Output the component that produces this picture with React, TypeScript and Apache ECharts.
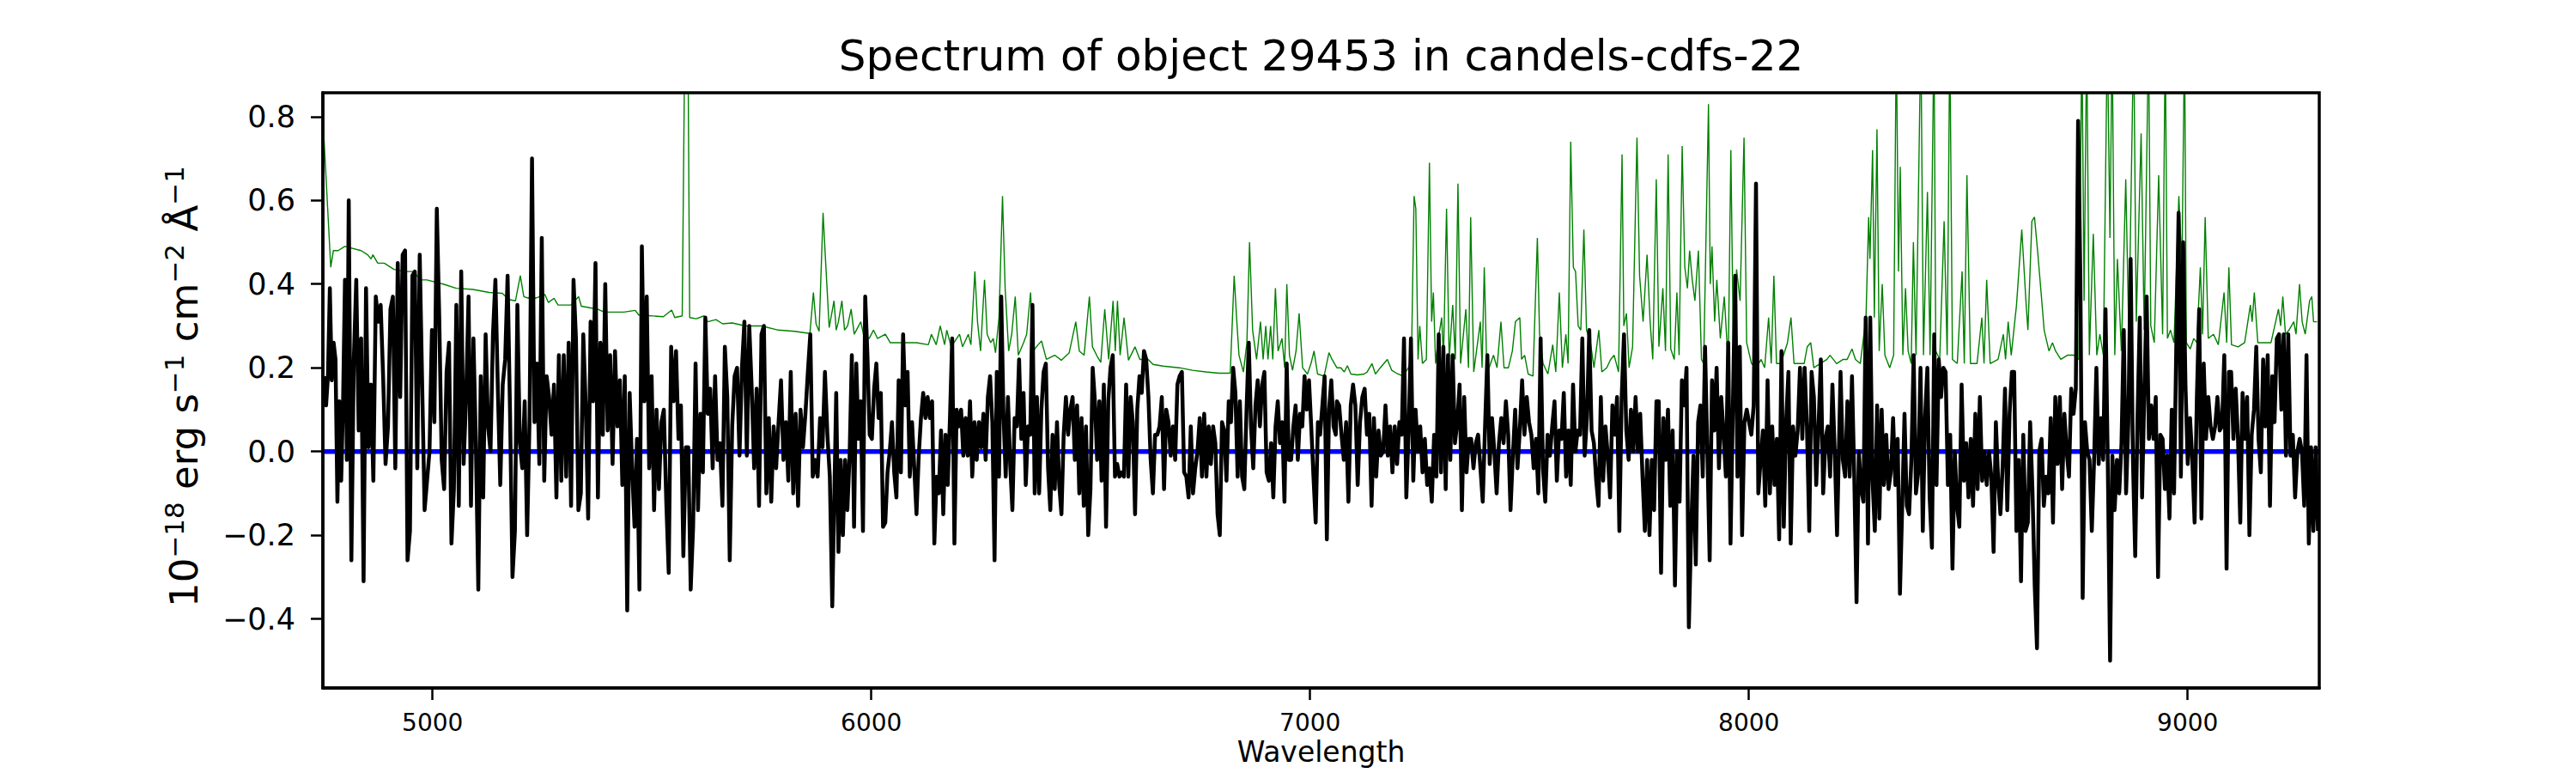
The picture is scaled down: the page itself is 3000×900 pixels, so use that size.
import React, { useEffect, useRef } from "react";
import * as echarts from "echarts";

const FONT = "DejaVu Sans";
const TITLE = "Spectrum of object 29453 in candels-cdfs-22";
const X_LABEL = "Wavelength";
const Y_LABEL_RICH = "{m|10}{s|\u221218}{m| erg s}{s|\u22121}{m| cm}{s|\u22122}{m| \u00c5}{s|\u22121}";

const X_MIN = 4750;
const X_MAX = 9300;
const Y_MIN = -0.565;
const Y_MAX = 0.857;
const X_TICKS = [5000, 6000, 7000, 8000, 9000];
const Y_TICKS = [-0.4, -0.2, 0, 0.2, 0.4, 0.6, 0.8];

const ZERO_LINE = [
  [4750, 0],
  [9300, 0],
];

const FLUX_A1 = [0.18, 0.11, 0.18, 0.39, 0.17, 0.26, 0.22, -0.12, 0.12, -0.07, 0.12, 0.41, -0.02, 0.6];
const FLUX_A2 = [
  -0.26, 0.22, 0.41, 0.05, 0.27, -0.31,
  0.39, 0.01, 0.16, -0.07, 0.37, 0.31, 0.35, 0.18, -0.03, 0.06,
  0.34, 0.37, -0.04, 0.45, 0.13, 0.47, 0.48, -0.26, -0.19, 0.42,
  0.43, -0.04, 0.47, 0.16, -0.14, -0.07, 0.0, 0.29, 0.07, 0.58,
  0.32, -0.02, -0.09, 0.19, 0.26, -0.22, -0.09, 0.35, -0.13, 0.43,
  -0.03, 0.13, 0.37, -0.13, 0.27, 0.02, -0.33, 0.18, -0.11, 0.28,
  0.06, 0.0, 0.28, 0.41, 0.15, -0.08, 0.16, 0.22, 0.42, 0.09,
  -0.3, -0.19, 0.35, 0.02, -0.04, 0.12, -0.2, 0.08, 0.7, 0.07,
  0.21, -0.03, 0.51, -0.07, 0.18, 0.13, 0.04, 0.16, -0.11, 0.23,
  -0.07, 0.23, -0.06, 0.26, -0.13, 0.41, 0.27, -0.14, -0.1, 0.28,
  0.11, -0.16, 0.31, 0.12, 0.45, -0.11, 0.26, 0.04, 0.4, 0.05,
  0.23, -0.03, 0.24, 0.06, 0.17, -0.08, 0.18, -0.38, 0.14, -0.04,
  -0.18, 0.03, -0.33, 0.49, 0.12, 0.37, -0.04, 0.18, -0.14, 0.1,
  -0.09, 0.07, 0.1, -0.12, -0.29, 0.25, 0.12, 0.24, 0.03, 0.11,
  -0.25, 0.01, 0.01, -0.33, -0.18, 0.21, -0.14, 0.09, -0.05, 0.32,
  0.09, 0.15, -0.04, 0.18, -0.02, 0.02, -0.13, 0.25, 0.13, -0.26,
  0.06, 0.18, 0.2, -0.01, 0.2, 0.31, -0.01, 0.3, 0.15, -0.04,
  0.15, -0.13, 0.28, 0.3, -0.1, 0.08, -0.12, 0.06, -0.04, 0.07,
  0.17, -0.02, 0.07, -0.07, 0.19, -0.1, 0.09, -0.13, 0.1, 0.01,
  0.09, 0.19, 0.28, -0.06, -0.02, -0.06, 0.08, 0.01, 0.19, 0.04,
  -0.06, -0.37,
];
const FLUX_B = [
  0.14, -0.24, -0.02, -0.2, -0.02, -0.14, -0.01, 0.23, -0.18, 0.21,
  0.03, 0.12, -0.19, 0.37, 0.23, 0.04, 0.03, 0.15, 0.21, 0.08,
  0.14, -0.18, -0.17, -0.05, 0.0, 0.07, -0.05, -0.11, 0.17, -0.05,
  0.28, 0.11, 0.19, -0.06, 0.07, -0.04, -0.15, -0.01, 0.08, 0.14,
  0.08, 0.13, 0.08, 0.12, -0.22, -0.06, -0.1, 0.05, -0.15, 0.04,
  -0.08, 0.08, 0.27, -0.22, 0.1, 0.06, 0.1, -0.01, 0.08, -0.01,
  0.12, -0.06, 0.07, -0.02, 0.07, 0.01, 0.09, -0.02, 0.13, 0.18,
  0.07, -0.26, 0.19, -0.06, 0.37, 0.09, -0.06, 0.13, -0.03, -0.14,
  0.08, 0.06, 0.22, 0.03, 0.14, -0.08, 0.06, 0.04, 0.35, -0.1,
  0.13, -0.1, 0.1, 0.19, 0.21, -0.04, -0.14, 0.04, -0.09, 0.07,
  -0.08, -0.15, 0.04, 0.13, 0.04, 0.1, 0.13, -0.02, 0.11, -0.1,
  0.08, -0.13, 0.06, -0.2, -0.09, 0.2, 0.12, -0.02, 0.12, -0.07,
  0.16, -0.18, 0.12, 0.2, 0.23, -0.06, -0.03, -0.06, -0.05, -0.06,
  0.16, -0.06, 0.13, 0.07, -0.15, 0.1, 0.18, 0.14, 0.24, 0.22,
  0.13, -0.02, -0.1, 0.04, 0.04, 0.06, 0.13, -0.09, 0.1, 0.07,
  -0.01, 0.06, -0.02, 0.16, 0.18, 0.19, -0.05, -0.06, -0.11, 0.06,
  -0.1, -0.04, 0.0, 0.08, -0.06, 0.09, -0.06, 0.06, -0.03, 0.06,
  0.02, -0.15, -0.2, 0.07, 0.05, -0.07, 0.12, 0.07, 0.2, 0.14,
  -0.06, 0.12, -0.06, -0.09, 0.1, 0.26, 0.06, -0.04, 0.11, 0.17,
  0.06, 0.16, 0.19, -0.05, -0.07, 0.02, -0.11, 0.06, 0.12, 0.02,
  0.07, -0.12, 0.21, -0.02, -0.02, 0.06, 0.11, -0.02, 0.09, 0.06,
  0.18, 0.1, 0.17, 0.06, -0.06, -0.17, 0.07, 0.04, 0.11, 0.18,
  -0.21, 0.1, 0.17, 0.06, 0.04,
];
const FLUX_C = [
  0.12, 0.11, 0.04, -0.02, 0.07, -0.12, 0.11, 0.16, 0.11, -0.08,
  0.07, 0.13, 0.15, 0.04, 0.09, -0.13, 0.08, -0.06, 0.05, -0.01,
  0.0, 0.11, -0.01, 0.06, -0.05, 0.06, -0.03, 0.07, 0.04, 0.27,
  -0.11, 0.05, 0.27, -0.07, 0.1, 0.0, 0.06, -0.05, 0.03, -0.08,
  -0.04, -0.12, 0.04, -0.06, 0.28, -0.05, 0.25, -0.09, 0.23, -0.02,
  0.23, 0.02, 0.07, 0.16, -0.14, 0.13, -0.05, 0.03, 0.03, -0.04,
  0.02, 0.04, -0.04, -0.12, 0.06, 0.23, -0.03, 0.08, 0.0, -0.1,
  0.02, 0.08, 0.02, 0.12, 0.04, -0.14, -0.01, 0.1, -0.04, 0.05,
  0.17, 0.04, 0.13, 0.07, 0.04, -0.04, 0.03, -0.1, 0.27, -0.04,
  -0.12, 0.04, -0.01, 0.06, 0.12, -0.07, 0.05, 0.03, 0.14, -0.06,
  0.05, -0.08, 0.16, 0.0, 0.05, 0.04, 0.27, -0.01, 0.08, 0.29,
  0.05, 0.02, -0.07, -0.13, 0.13, -0.07, 0.06, -0.01, -0.11, 0.11,
  0.04, 0.13, -0.19, 0.13, 0.28, 0.05, -0.02, 0.1, 0.0, 0.13,
  0.0, 0.09, -0.06, -0.19, -0.02, -0.2, -0.02, -0.14, 0.12, 0.12,
  -0.29, 0.08, -0.02, 0.1, -0.13, 0.05, -0.32, 0.0, -0.12, 0.17,
  0.11, 0.2, -0.42, -0.19, -0.01, -0.27, 0.07, 0.11, -0.06, 0.25,
  0.0, -0.26, 0.17, 0.05, 0.2, -0.04, 0.13, 0.04, -0.06, 0.26,
  -0.22, 0.1, 0.42, -0.06, 0.25, -0.2, 0.07, 0.1, 0.07, 0.04,
  0.11, 0.64, -0.1, -0.02, 0.05, -0.13, 0.17, -0.1, 0.06, -0.08,
  0.03, -0.21, 0.24, -0.18, 0.07, 0.19, -0.22, 0.06, -0.01, 0.05,
  0.2, 0.03, 0.2, 0.06, -0.19, 0.19, 0.13, -0.08, 0.06, 0.22,
  -0.1, 0.03, 0.06, -0.06, 0.16, 0.0, -0.2,
];
const FLUX_D = [
  0.19, -0.02, -0.06, 0.12, -0.06, 0.18, -0.06, -0.36, 0.0, -0.09,
  -0.12, 0.32, -0.22, 0.32, -0.07, -0.19, 0.11, -0.16, 0.1, -0.08,
  0.04, -0.09, -0.05, 0.08, -0.08, 0.03, -0.34, -0.13, 0.09, -0.13,
  -0.15, -0.02, 0.23, -0.1, -0.05, 0.2, -0.19, 0.08, 0.2, -0.11,
  -0.23, 0.28, -0.08, 0.22, 0.13, 0.2, 0.19, -0.08, 0.04, -0.28,
  0.0, -0.13, -0.18, 0.16, -0.07, 0.02, -0.11, 0.03, -0.13, 0.09,
  -0.09, 0.13, -0.07, 0.0, -0.08, 0.0, -0.06, -0.24, 0.07, -0.07,
  -0.15, -0.03, 0.15, -0.14, 0.09, 0.19, 0.19, -0.19, -0.02, -0.31,
  0.04, -0.19, -0.17, 0.07, -0.09, -0.32, -0.47, 0.0, 0.03, -0.13,
  -0.06, -0.1, 0.08, -0.17, 0.13, -0.03, 0.13, -0.09, 0.09, 0.0,
  -0.06, 0.15, 0.09, 0.15, 0.79, 0.41, -0.35, 0.07, 0.0, -0.02,
  -0.19, -0.02, 0.2, -0.03, 0.08, -0.02, 0.34, -0.03, -0.5, -0.01,
  -0.14, -0.02, -0.1, 0.02, 0.29, -0.1, 0.07, 0.46, -0.02, -0.25,
  0.08, 0.32, -0.11, 0.14, 0.37, 0.03, 0.11, 0.03, 0.13, -0.3,
  0.04, 0.03, -0.09, -0.01, -0.16, 0.1, -0.1, 0.26, 0.57, -0.06,
  0.5, 0.16, -0.03, 0.08, -0.02, -0.17, 0.13, 0.34, -0.16, 0.21,
  0.03, 0.13, 0.06, 0.03, 0.06, 0.13, 0.05, 0.06, 0.23, -0.28,
  0.19, 0.19, 0.03, 0.15, 0.03, -0.17, 0.14, 0.03, 0.13, -0.2,
  0.04, 0.1, 0.25, 0.03, -0.05, 0.22, 0.06, 0.23, -0.13, 0.18,
  0.07, 0.27, 0.28, 0.1, 0.28, -0.01, 0.28, -0.01, 0.04, -0.11,
  0.0, 0.03, 0.0, -0.13, 0.23, -0.22, 0.01, -0.19, 0.01, -0.19,
];

// wavelength span of each chunk [start, end]
const FLUX_CHUNKS = [
  { span: [4753, 4809], flux: FLUX_A1 },
  { span: [4815, 5911], flux: FLUX_A2 },
  { span: [5920, 7058.5], flux: FLUX_B },
  { span: [7061, 8201], flux: FLUX_C },
  { span: [8209, 9297], flux: FLUX_D },
];

// Green noise / error spectrum
const GREEN_WAVE = [
  4751, 4768, 4774, 4785, 4800, 4837, 4852, 4860, 4864, 4875, 4890, 4912, 4935, 4957, 4972, 4987,
  5024, 5054, 5092, 5129, 5159, 5174, 5189, 5200, 5208, 5219, 5226, 5234, 5256, 5264, 5277, 5286,
  5316, 5333, 5339, 5376, 5391, 5436, 5462, 5470, 5526, 5545, 5552, 5569, 5575, 5582, 5586, 5601,
  5619, 5627, 5646, 5661, 5683, 5713, 5750, 5788, 5825, 5860, 5868, 5874, 5881, 5890, 5896, 5904,
  5915, 5920, 5925, 5933, 5939, 5946, 5954, 5961, 5976, 5984, 5995, 6005, 6014, 6032, 6043, 6073,
  6103, 6130, 6137, 6148, 6157, 6167, 6172, 6182, 6201, 6208, 6221, 6227, 6236, 6242, 6249, 6258,
  6264, 6272, 6278, 6283, 6291, 6299, 6305, 6313, 6320, 6328, 6335, 6347, 6354, 6363, 6369, 6380,
  6388, 6399, 6418, 6433, 6451, 6466, 6474, 6485, 6497, 6504, 6515, 6523, 6532, 6541, 6551, 6556,
  6561, 6567, 6576, 6586, 6601, 6612, 6631, 6642, 6665, 6702, 6732, 6762, 6792, 6818, 6827, 6833,
  6838, 6848, 6856, 6862, 6869, 6878, 6887, 6893, 6899, 6904, 6910, 6915, 6921, 6927, 6936, 6942,
  6947, 6953, 6960, 6968, 6975, 6983, 6994, 7002, 7009, 7017, 7032, 7043, 7050, 7061, 7070, 7078,
  7085, 7093, 7108, 7123, 7130, 7141, 7149, 7160, 7176, 7186, 7197, 7212, 7224, 7231, 7237, 7241,
  7246, 7250, 7256, 7265, 7272, 7277, 7281, 7286, 7291, 7300, 7304, 7311, 7317, 7325, 7331, 7337,
  7343, 7355, 7361, 7366, 7373, 7388, 7392, 7397, 7403, 7418, 7426, 7435, 7442, 7452, 7461, 7468,
  7478, 7482, 7489, 7497, 7508, 7518, 7523, 7531, 7542, 7553, 7560, 7568, 7575, 7583, 7588, 7594,
  7600, 7605, 7611, 7617, 7624, 7630, 7639, 7647, 7658, 7665, 7676, 7685, 7693, 7703, 7711, 7715,
  7721, 7727, 7735, 7745, 7751, 7759, 7768, 7775, 7781, 7789, 7795, 7804, 7810, 7816, 7822, 7830,
  7836, 7841, 7848, 7854, 7860, 7865, 7871, 7877, 7885, 7892, 7897, 7908, 7912, 7916, 7922, 7927,
  7935, 7944, 7953, 7959, 7965, 7972, 7980, 7989, 7995, 8006, 8017, 8028, 8036, 8045, 8051, 8057,
  8063, 8073, 8088, 8096, 8103, 8126, 8133, 8141, 8148, 8163, 8178, 8185, 8200, 8215, 8224, 8235,
  8243, 8254, 8267, 8273, 8276, 8282, 8286, 8292, 8297, 8304, 8310, 8321, 8330, 8336, 8341, 8345,
  8351, 8357, 8363, 8370, 8375, 8381, 8392, 8398, 8407, 8413, 8422, 8426, 8435, 8445, 8452, 8458,
  8464, 8475, 8486, 8491, 8497, 8505, 8520, 8531, 8536, 8542, 8550, 8568, 8580, 8585, 8591, 8598,
  8610, 8622, 8632, 8636, 8645, 8651, 8658, 8666, 8673, 8684, 8692, 8699, 8711, 8726, 8741, 8752,
  8759, 8764, 8770, 8776, 8785, 8793, 8800, 8808, 8817, 8823, 8828, 8834, 8840, 8849, 8859, 8866,
  8877, 8883, 8894, 8901, 8911, 8916, 8924, 8934, 8943, 8949, 8954, 8961, 8969, 8980, 8987, 8993,
  8997, 9006, 9014, 9021, 9029, 9034, 9040, 9047, 9059, 9070, 9083, 9089, 9094, 9100, 9115, 9130,
  9143, 9147, 9152, 9160, 9175, 9190, 9207, 9212, 9217, 9223, 9231, 9242, 9247, 9255, 9261, 9268,
  9278, 9283, 9287, 9295,
];
const GREEN_FLUX = [
  0.78, 0.44, 0.48, 0.48, 0.49, 0.48, 0.47, 0.46, 0.47, 0.45, 0.45, 0.435, 0.43, 0.43, 0.41, 0.41,
  0.4, 0.39, 0.387, 0.38, 0.378, 0.363, 0.36, 0.42, 0.37, 0.366, 0.38, 0.366, 0.375, 0.356, 0.366, 0.35,
  0.35, 0.37, 0.347, 0.34, 0.333, 0.333, 0.337, 0.326, 0.322, 0.338, 0.32, 0.324, 1.0, 1.0, 0.32, 0.317,
  0.324, 0.31, 0.315, 0.305, 0.307, 0.3, 0.3, 0.29, 0.287, 0.282, 0.38, 0.305, 0.287, 0.57, 0.45, 0.296,
  0.36, 0.29, 0.31, 0.36, 0.29, 0.3, 0.34, 0.28, 0.31, 0.27, 0.27, 0.29, 0.27, 0.28, 0.26, 0.26,
  0.26, 0.255, 0.28, 0.255, 0.3, 0.255, 0.29, 0.25, 0.28, 0.25, 0.28, 0.255, 0.43, 0.31, 0.24, 0.41,
  0.28, 0.26, 0.27, 0.236, 0.32, 0.61, 0.39, 0.24, 0.28, 0.37, 0.23, 0.26, 0.28, 0.38, 0.24, 0.255,
  0.264, 0.22, 0.23, 0.218, 0.236, 0.31, 0.24, 0.23, 0.37, 0.25, 0.227, 0.213, 0.34, 0.22, 0.36, 0.24,
  0.36, 0.23, 0.32, 0.218, 0.25, 0.22, 0.22, 0.208, 0.204, 0.2, 0.194, 0.19, 0.187, 0.187, 0.42, 0.31,
  0.23, 0.19, 0.26, 0.5, 0.29, 0.22, 0.31, 0.22, 0.3, 0.22, 0.3, 0.22, 0.39, 0.24, 0.27, 0.2,
  0.4, 0.23, 0.194, 0.24, 0.33, 0.2, 0.185, 0.21, 0.24, 0.185, 0.18, 0.236, 0.22, 0.2, 0.2, 0.19,
  0.205, 0.185, 0.183, 0.185, 0.19, 0.21, 0.185, 0.2, 0.22, 0.194, 0.187, 0.18, 0.2, 0.22, 0.61, 0.58,
  0.22, 0.3, 0.21, 0.22, 0.69, 0.31, 0.38, 0.21, 0.26, 0.32, 0.22, 0.58, 0.22, 0.35, 0.22, 0.64,
  0.21, 0.34, 0.2, 0.56, 0.19, 0.31, 0.2, 0.44, 0.185, 0.23, 0.2, 0.31, 0.2, 0.2, 0.24, 0.31,
  0.32, 0.22, 0.23, 0.185, 0.18, 0.51, 0.28, 0.21, 0.185, 0.255, 0.19, 0.38, 0.2, 0.28, 0.21, 0.74,
  0.44, 0.43, 0.3, 0.29, 0.53, 0.29, 0.26, 0.2, 0.29, 0.19, 0.2, 0.22, 0.23, 0.19, 0.71, 0.3,
  0.33, 0.2, 0.25, 0.75, 0.42, 0.31, 0.47, 0.31, 0.22, 0.65, 0.25, 0.39, 0.24, 0.71, 0.245, 0.22,
  0.38, 0.23, 0.73, 0.44, 0.39, 0.48, 0.41, 0.36, 0.48, 0.22, 0.21, 0.83, 0.4, 0.49, 0.31, 0.41,
  0.27, 0.37, 0.21, 0.72, 0.22, 0.435, 0.36, 0.75, 0.26, 0.21, 0.2, 0.22, 0.2, 0.32, 0.21, 0.42,
  0.21, 0.21, 0.26, 0.32, 0.21, 0.21, 0.25, 0.26, 0.2, 0.21, 0.22, 0.23, 0.21, 0.22, 0.22, 0.245,
  0.22, 0.21, 0.32, 0.56, 0.46, 0.72, 0.32, 0.77, 0.24, 0.4, 0.23, 0.2, 0.23, 1.0, 0.43, 0.68,
  0.23, 0.39, 0.24, 0.21, 0.5, 0.23, 1.0, 0.23, 0.62, 0.23, 1.0, 0.24, 0.22, 0.55, 0.23, 1.0,
  0.22, 0.21, 0.43, 0.21, 0.66, 0.21, 0.21, 0.32, 0.21, 0.41, 0.21, 0.22, 0.28, 0.22, 0.31, 0.23,
  0.35, 0.53, 0.35, 0.29, 0.55, 0.56, 0.48, 0.38, 0.29, 0.24, 0.26, 0.24, 0.22, 0.23, 0.23, 0.22,
  1.0, 0.36, 1.0, 0.23, 0.52, 0.23, 0.28, 0.23, 1.0, 0.51, 1.0, 0.23, 0.46, 0.24, 0.65, 0.28,
  1.0, 0.31, 0.76, 0.29, 1.0, 0.3, 0.26, 0.66, 0.28, 1.0, 0.27, 0.29, 0.26, 0.61, 0.44, 1.0,
  0.26, 0.245, 0.27, 0.26, 0.44, 0.28, 0.56, 0.27, 0.28, 0.255, 0.38, 0.26, 0.44, 0.255, 0.25, 0.26,
  0.35, 0.31, 0.38, 0.26, 0.26, 0.26, 0.34, 0.3, 0.37, 0.28, 0.29, 0.31, 0.28, 0.4, 0.31, 0.28,
  0.36, 0.37, 0.31, 0.31,
];

// layout (pixels)
const GRID = { left: 376, top: 108, width: 2325, height: 693 };

function buildFlux(): number[][] {
  const out: number[][] = [];
  FLUX_CHUNKS.forEach((c) => {
    const n = c.flux.length;
    const step = n > 1 ? (c.span[1] - c.span[0]) / (n - 1) : 0;
    c.flux.forEach((v, i) => out.push([c.span[0] + i * step, v]));
  });
  return out;
}

function buildGreen(): number[][] {
  const n = Math.min(GREEN_WAVE.length, GREEN_FLUX.length);
  const out: number[][] = [];
  for (let i = 0; i < n; i++) out.push([GREEN_WAVE[i], GREEN_FLUX[i]]);
  return out;
}

const fmtY = (v: number) => (v < 0 ? "\u2212" : "") + Math.abs(v).toFixed(1);

export default function App() {
  const ref = useRef<HTMLDivElement>(null);
  useEffect(() => {
    if (!ref.current) return;
    const chart = echarts.init(ref.current, undefined, { renderer: "svg" });
    const cx = GRID.left + GRID.width / 2;
    chart.setOption({
      animation: false,
      backgroundColor: "#ffffff",
      grid: {
        left: GRID.left,
        top: GRID.top,
        width: GRID.width,
        height: GRID.height,
        containLabel: false,
        outerBoundsMode: "none",
        show: false,
      },
      xAxis: {
        type: "value",
        min: X_MIN,
        max: X_MAX,
        axisLine: { show: true, onZero: false, lineStyle: { color: "#000", width: 3.5 } },
        splitLine: { show: false },
        axisTick: {
          show: true,
          inside: false,
          length: 14,
          customValues: X_TICKS,
          lineStyle: { color: "#000", width: 2.5 },
        },
        axisLabel: {
          customValues: X_TICKS,
          fontSize: 28,
          fontFamily: FONT,
          color: "#000",
          margin: 26,
          formatter: (v: number) => String(v),
        },
      },
      yAxis: {
        type: "value",
        min: Y_MIN,
        max: Y_MAX,
        axisLine: { show: true, onZero: false, lineStyle: { color: "#000", width: 3.5 } },
        splitLine: { show: false },
        axisTick: {
          show: true,
          inside: false,
          length: 14,
          customValues: Y_TICKS,
          lineStyle: { color: "#000", width: 2.5 },
        },
        axisLabel: {
          customValues: Y_TICKS,
          fontSize: 35,
          fontFamily: FONT,
          color: "#000",
          margin: 32,
          formatter: fmtY,
        },
      },
      series: [
        {
          type: "line",
          data: buildGreen(),
          symbol: "none",
          showSymbol: false,
          silent: true,
          clip: true,
          z: 2,
          lineStyle: { color: "#008000", width: 1.4 },
        },
        {
          type: "line",
          data: ZERO_LINE,
          symbol: "none",
          showSymbol: false,
          silent: true,
          clip: true,
          z: 3,
          lineStyle: { color: "#0000ff", width: 5.5 },
        },
        {
          type: "line",
          data: buildFlux(),
          symbol: "none",
          showSymbol: false,
          silent: true,
          clip: true,
          z: 4,
          lineStyle: { color: "#000000", width: 4.5, join: "round" },
        },
      ],
      graphic: [
        {
          type: "rect",
          silent: true,
          z: 100,
          shape: { x: GRID.left, y: GRID.top, width: GRID.width, height: GRID.height },
          style: { fill: "none", stroke: "#000", lineWidth: 3.5 },
        },
        {
          type: "text",
          silent: true,
          x: cx,
          y: 65,
          style: {
            text: TITLE,
            fontSize: 50,
            fontFamily: FONT,
            fill: "#000",
            align: "center",
            verticalAlign: "middle",
          },
        },
        {
          type: "text",
          silent: true,
          x: cx,
          y: 875,
          style: {
            text: X_LABEL,
            fontSize: 33,
            fontFamily: FONT,
            fill: "#000",
            align: "center",
            verticalAlign: "middle",
          },
        },
        {
          type: "text",
          silent: true,
          x: 214,
          y: 450,
          rotation: Math.PI / 2,
          style: {
            text: Y_LABEL_RICH,
            fontSize: 45,
            fontFamily: FONT,
            fill: "#000",
            align: "center",
            verticalAlign: "middle",
            rich: {
              m: { fontSize: 45, lineHeight: 54, fontFamily: FONT, fill: "#000" },
              s: { fontSize: 31, lineHeight: 27, verticalAlign: "top", fontFamily: FONT, fill: "#000" },
            },
          },
        },
      ],
    });
    return () => chart.dispose();
  }, []);
  return (
    <div
      ref={ref}
      style={{ position: "absolute", left: 0, top: 0, width: "3000px", height: "900px", background: "#fff" }}
    />
  );
}
